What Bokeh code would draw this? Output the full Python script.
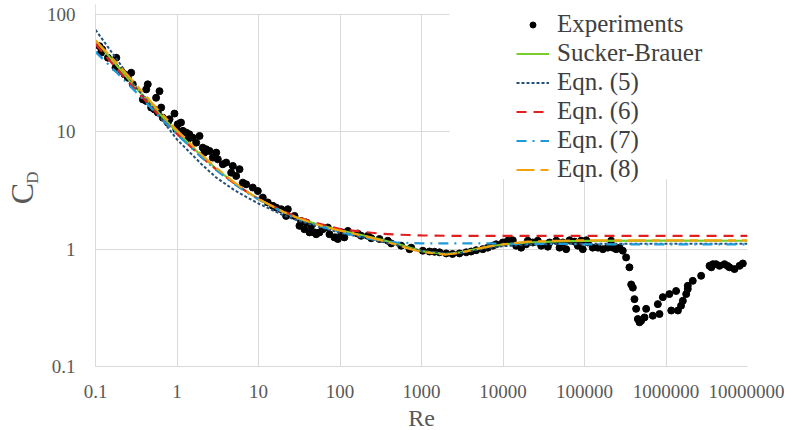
import math
from bokeh.plotting import figure
from bokeh.layouts import row
from bokeh.models import Range1d, FixedTicker, Legend, LegendItem, BoxAnnotation, ColumnDataSource
from bokeh.core.properties import value
from bokeh.embed import file_html
from bokeh.resources import INLINE

# ---------------- data ----------------
x_tick_values = [0.1, 1, 10, 100, 1000, 10000, 100000, 1000000, 10000000]
x_tick_labels = ["0.1", "1", "10", "100", "1000", "10000", "100000", "1000000", "10000000"]
y_tick_values = [0.1, 1, 10, 100]
y_tick_labels = ["0.1", "1", "10", "100"]

exp_re = [0.112, 0.121, 0.117, 0.142, 0.180, 0.176, 0.207, 0.227, 0.274, 0.249, 0.287, 0.438, 0.419,
          0.610, 0.381, 0.419, 0.554, 0.482, 0.530, 0.640, 0.582, 0.931, 0.670, 0.771, 0.809, 1.02,
          1.12, 0.98, 1.18, 1.30, 1.42, 1.56, 1.89, 1.36, 1.72, 2.07, 2.28, 2.51, 2.17, 3.03, 2.75,
          3.17, 3.65, 4.01, 4.84, 5.85, 4.62, 5.32, 6.42, 7.06, 8.51, 9.81, 11.3, 13.0, 15.0, 16.5,
          19.0, 22.9, 21.8, 27.7,
          31.8, 33.3, 36.6, 44.3, 42.3, 48.6, 56.0, 61.5, 70.8, 85.6, 94.0, 38.5, 51.0, 74.3, 89.7,
          104, 113, 125, 165, 182, 220, 242, 305, 386, 425, 563, 713, 748, 1038, 1253, 1445, 1664,
          2009, 2400,
          2924, 3532, 4064, 4688, 5650, 6510, 7500, 8240, 9950, 11460, 13190, 14490, 16700, 19230,
          20150, 23200, 26700, 29400, 35500, 37200, 45000, 49400, 54200, 59600, 65500, 75400, 82800,
          91000, 95300, 105000, 110000, 126000, 146000, 168000, 193000, 212000, 223000, 245000,
          269000, 295000, 324000, 356000, 374000, 392000, 410000, 430000, 451000, 473000, 495000,
          545000, 571000, 689000, 794000, 832000, 914000, 1.10e6, 1.16e6, 1.33e6, 1.40e6, 1.53e6,
          1.61e6, 1.77e6, 1.85e6, 1.85e6, 2.13e6, 2.70e6, 3.42e6, 3.6e6, 3.76e6, 4.1e6, 4.53e6,
          5.22e6, 5.7e6, 6.01e6, 6.92e6, 7.98e6, 8.77e6]
exp_cd = [53.7, 50.4, 47.2, 42.8, 42.8, 35.2, 32.9, 30.9, 31.9, 28.9, 25.4, 25.4, 23.0,
          22.2, 18.9, 18.3, 19.5, 16.1, 15.5, 16.1, 14.6, 14.3, 13.2, 12.0, 12.8, 11.6,
          12.0, 10.5, 10.2, 9.84, 9.52, 8.92, 9.22, 8.63, 8.09, 7.33, 7.10, 6.87, 6.65, 6.65, 6.03,
          5.83, 5.29, 5.47, 5.12, 4.80, 4.49, 4.21, 3.69, 3.57, 3.35, 3.13, 2.75, 2.50, 2.34, 2.26,
          2.19, 2.19, 1.92, 1.92,
          1.58, 1.74, 1.48, 1.58, 1.39, 1.39, 1.39, 1.48, 1.53, 1.26, 1.22, 1.69, 1.34, 1.34, 1.26,
          1.39, 1.26, 1.43, 1.36, 1.30, 1.30, 1.24, 1.22, 1.18, 1.12, 1.07, 1.00, 1.03, 0.97, 0.955,
          0.95, 0.94, 0.92, 0.91,
          0.92, 0.94, 0.955, 0.98, 1.00, 1.03, 1.07, 1.10, 1.14, 1.18, 1.19, 1.07, 1.03, 1.10,
          1.18, 1.14, 1.18, 1.07, 1.05, 1.14, 1.18, 1.03, 1.14, 1.00, 1.19, 1.16, 1.07,
          1.18, 1.00, 1.19, 1.14, 1.03, 1.03, 1.00, 1.03, 1.18, 1.03, 1.00,
          1.03, 0.97, 0.85, 0.70, 0.50, 0.47, 0.375, 0.31, 0.254, 0.238, 0.245,
          0.262, 0.31, 0.271, 0.34, 0.28, 0.39, 0.414, 0.30, 0.44, 0.30, 0.33,
          0.363, 0.414, 0.457, 0.487, 0.537, 0.593, 0.721, 0.70, 0.745, 0.745, 0.721,
          0.745, 0.72, 0.70, 0.676, 0.721, 0.755]

curve_re = [0.1, 0.2, 0.3, 0.5, 0.7, 1, 2, 3, 5, 7, 10, 20, 30, 50, 70, 100, 200, 300, 500, 700,
            1000, 2000, 3000, 5000, 7000, 1e4, 2e4, 5e4, 1e5, 1e6, 1e7]
sucker_brauer = [60.2, 34.1, 24.6, 16.55, 12.86, 9.94, 6.24, 4.87, 3.68, 3.12, 2.67, 2.08, 1.855,
                 1.646, 1.541, 1.449, 1.30, 1.219, 1.111, 1.036, 0.963, 0.906, 0.940, 1.013, 1.057,
                 1.095, 1.14, 1.167, 1.175, 1.181, 1.18]
eqn5 = [74, 38, 25, 16.2, 11.9, 8.6, 5.3, 4.1, 3.2, 2.8, 2.45, 1.95, 1.76, 1.58, 1.48, 1.38, 1.25,
        1.17, 1.08, 1.02, 0.97, 0.92, 0.93, 0.99, 1.03, 1.06, 1.09, 1.11, 1.11, 1.11, 1.11]
eqn6 = [56, 32, 23.5, 15.8, 12.3, 9.6, 6.1, 4.8, 3.65, 3.12, 2.68, 2.1, 1.88, 1.68, 1.58, 1.48, 1.40,
        1.36, 1.33, 1.32, 1.31, 1.30, 1.30, 1.30, 1.30, 1.30, 1.30, 1.30, 1.30, 1.30, 1.30]
eqn7 = [48, 30, 22.5, 15.5, 12.2, 9.5, 6.05, 4.75, 3.6, 3.08, 2.65, 2.06, 1.83, 1.62, 1.50, 1.40,
        1.25, 1.19, 1.14, 1.13, 1.12, 1.12, 1.12, 1.12, 1.12, 1.11, 1.11, 1.11, 1.10, 1.10, 1.10]
eqn8 = [60, 36, 26.2, 17.4, 13.5, 10.3, 6.4, 4.95, 3.72, 3.14, 2.68, 2.08, 1.85, 1.64, 1.53, 1.44,
        1.29, 1.2, 1.09, 1.01, 0.945, 0.9, 0.93, 1.01, 1.06, 1.1, 1.16, 1.18, 1.19, 1.19, 1.19]

series_names = ["Experiments", "Sucker-Brauer", "Eqn. (5)", "Eqn. (6)", "Eqn. (7)", "Eqn. (8)"]
y_label_main = "C"
y_label_sub = "D"

# ---------------- styling ----------------
FONT = "Liberation Serif"
GRID = "#d9d9d9"
TXT = "#595959"
TOTAL_H = 426
LAB_W = 42

# ---------------- y-axis title (separate narrow canvas) ----------------
lab = figure(frame_width=LAB_W, frame_height=TOTAL_H, x_range=Range1d(0, LAB_W), y_range=Range1d(0, TOTAL_H),
             min_border=0, output_backend="svg", toolbar_location=None)
lab.axis.visible = False
lab.grid.visible = False
lab.outline_line_color = None
lab.text(x=[21.5], y=[TOTAL_H - 189], text=[y_label_main], angle=math.pi / 2,
         text_align="center", text_baseline="middle", text_font=value(FONT),
         text_font_size=value("32px"), text_color=TXT)
lab.text(x=[31.5], y=[TOTAL_H - 173], text=[y_label_sub], angle=math.pi / 2,
         text_align="center", text_baseline="middle", text_font=value(FONT),
         text_font_size=value("17px"), text_color=TXT)

# ---------------- main figure ----------------
y_top = 10 ** (2 + 10 / 117.5)   # small blank strip above 100 so the legend is not clipped
p = figure(x_axis_type="log", y_axis_type="log",
           x_range=Range1d(0.1, 1e7), y_range=Range1d(0.1, y_top),
           frame_width=652, frame_height=362,
           min_border_left=53, min_border_right=37, min_border_top=4, min_border_bottom=60,
           output_backend="svg", toolbar_location=None)
p.outline_line_color = None
p.background_fill_color = "white"
p.border_fill_color = "white"

for ax, vals, labs in ((p.xaxis[0], x_tick_values, x_tick_labels), (p.yaxis[0], y_tick_values, y_tick_labels)):
    ax.ticker = FixedTicker(ticks=vals, minor_ticks=[])
    ax.major_label_overrides = dict(zip(vals, labs))
    ax.axis_line_color = GRID
    ax.axis_line_width = 1
    ax.major_tick_line_color = None
    ax.minor_tick_line_color = None
    ax.major_tick_out = 0
    ax.major_tick_in = 0
    ax.minor_tick_out = 0
    ax.minor_tick_in = 0
    ax.major_label_text_font = FONT
    ax.major_label_text_font_size = "19px"
    ax.major_label_text_color = TXT

p.xaxis.major_label_standoff = 18
p.yaxis.major_label_standoff = 20
p.xaxis.axis_label = "Re"
p.xaxis.axis_label_text_font = FONT
p.xaxis.axis_label_text_font_size = "24px"
p.xaxis.axis_label_text_font_style = "normal"
p.xaxis.axis_label_text_color = TXT
p.xaxis.axis_label_standoff = 4

p.xgrid.grid_line_color = GRID
p.ygrid.grid_line_color = GRID
p.xgrid.minor_grid_line_color = None
p.ygrid.minor_grid_line_color = None

# hide axis/grid lines above the 100 line (left of the legend)
p.add_layout(BoxAnnotation(right=2208, bottom=101, fill_color="white", fill_alpha=1.0,
                           line_color=None, level="overlay"))
# white area behind the legend (hides the grid there)
p.add_layout(BoxAnnotation(left=2208, bottom=3.94, fill_color="white", fill_alpha=1.0,
                           line_color=None, level="underlay"))

src_exp = ColumnDataSource(dict(re=exp_re, cd=exp_cd))
r_exp = p.scatter("re", "cd", source=src_exp, size=7, color="black", line_color="black")

src_c = ColumnDataSource(dict(re=curve_re, sb=sucker_brauer, e5=eqn5, e6=eqn6, e7=eqn7, e8=eqn8))
r_sb = p.line("re", "sb", source=src_c, line_color="#7acc29", line_width=2.2)
r_e5 = p.line("re", "e5", source=src_c, line_color="#24507a", line_width=2, line_dash="3 2")
r_e6 = p.line("re", "e6", source=src_c, line_color="#e02020", line_width=2.2, line_dash="10 7")
r_e7 = p.line("re", "e7", source=src_c, line_color="#1f9ad8", line_width=2.2, line_dash="10 6 2 6")
r_e8 = p.line("re", "e8", source=src_c, line_color="#f2a20c", line_width=2.2, line_dash="18 6 8 6")

legend = Legend(items=[LegendItem(label=n, renderers=[r]) for n, r in
                       zip(series_names, [r_exp, r_sb, r_e5, r_e6, r_e7, r_e8])],
                location=(421, 183), orientation="vertical")
legend.label_text_font = FONT
legend.label_text_font_size = "25px"
legend.label_text_color = "#404040"
legend.background_fill_alpha = 0
legend.border_line_color = None
legend.padding = 0
legend.margin = 0
legend.spacing = 1
legend.glyph_width = 33
legend.glyph_height = 15
legend.label_height = 26
legend.label_standoff = 8
p.add_layout(legend)

layout = row(lab, p)
open("out.html", "w").write(file_html(layout, INLINE))
